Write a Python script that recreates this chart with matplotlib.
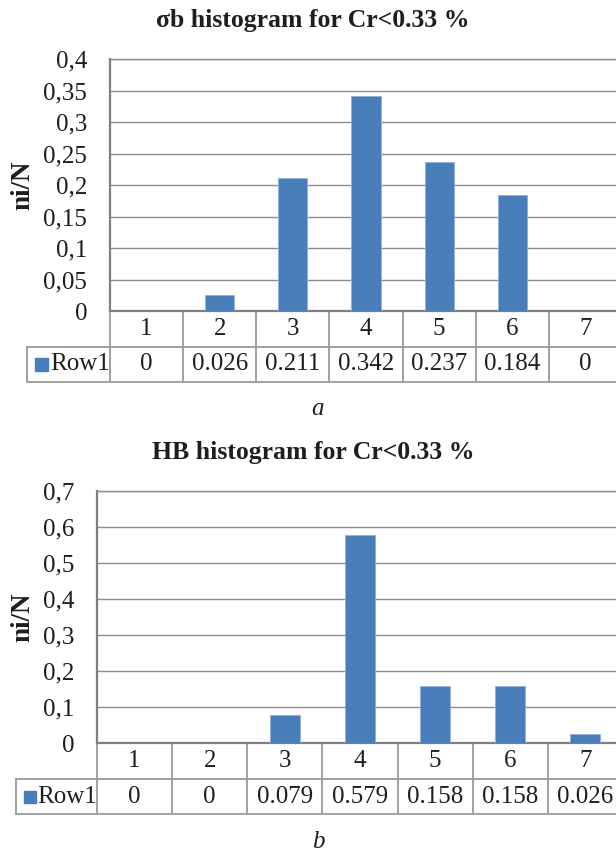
import matplotlib

matplotlib.use("Agg")
import matplotlib.pyplot as plt
from matplotlib.lines import Line2D
from matplotlib.patches import Rectangle
from matplotlib.ticker import FuncFormatter

plt.rcParams["font.family"] = ["Liberation Serif", "DejaVu Serif"]

# data
categories = ["1", "2", "3", "4", "5", "6", "7"]
sigma_vals = [0, 0.026, 0.211, 0.342, 0.237, 0.184, 0]
hb_vals = [0, 0, 0.079, 0.579, 0.158, 0.158, 0.026]
sigma_ticks = [0, 0.05, 0.1, 0.15, 0.2, 0.25, 0.3, 0.35, 0.4]
hb_ticks = [0, 0.1, 0.2, 0.3, 0.4, 0.5, 0.6, 0.7]
series_name = "Row1"

BAR = "#4a7ebb"
GRID = "#8c8c8c"
CELL = "#a0a0a0"
TXT = "#1e1e1e"
W, H = 616, 852


def fmt(v, _pos=None):
    return f"{round(v, 3):g}".replace(".", ",")


def chart(fig, left, base, right, leg_left, title, title_y, caption, cap_y, vals, ticks):
    ax = fig.add_axes([left / W, 1 - base / H, (right - left) / W, 252 / H])
    x = range(1, len(categories) + 1)
    ax.bar(x, vals, width=0.4, color=BAR, edgecolor="#8fb0dc", linewidth=0.6, zorder=3)
    ax.set_xlim(0.5, len(categories) + 0.5)
    ax.set_ylim(ticks[0], ticks[-1])
    ax.set_yticks(ticks)
    ax.yaxis.set_major_formatter(FuncFormatter(fmt))
    ax.set_xticks([])
    ax.tick_params(axis="y", length=0, pad=16.5, labelsize=18, labelcolor=TXT)
    ax.yaxis.grid(True, color=GRID, linewidth=1.0)
    ax.set_axisbelow(True)
    for side in ("top", "right"):
        ax.spines[side].set_color(GRID)
        ax.spines[side].set_linewidth(1.0)
    for side in ("left", "bottom"):
        ax.spines[side].set_color("#7f7f7f")
        ax.spines[side].set_linewidth(1.6)

    # data table under the plot, in axes fraction
    ph = 252.0
    r1 = -36 / ph
    r2 = -71 / ph
    n = len(categories)
    lf = (leg_left - left) / (right - left)
    tr = ax.transAxes
    kw = dict(transform=tr, color=CELL, linewidth=1.4, clip_on=False)
    for i in range(n + 1):
        ax.add_line(Line2D([i / n, i / n], [0, r2], **kw))
    ax.add_line(Line2D([0, 1], [r1, r1], **kw))
    ax.add_line(Line2D([lf, 1], [r2, r2], **kw))
    ax.add_line(Line2D([lf, 0], [r1, r1], **kw))
    ax.add_line(Line2D([lf, lf], [r1, r2], **kw))
    for i, (c, v) in enumerate(zip(categories, vals)):
        xc = (i + 0.5) / n
        ax.text(xc, r1 / 2, c, transform=tr, ha="center", va="center",
                fontsize=18, color=TXT)
        ax.text(xc, (r1 + r2) / 2, f"{v:g}", transform=tr, ha="center",
                va="center", fontsize=18, color=TXT)
    sq = 12.5 / (right - left)
    sq_h = 12.5 / ph
    ym = (r1 + r2) / 2
    ax.add_patch(Rectangle((lf + 8 / (right - left), ym - sq_h / 2), sq, sq_h,
                           transform=tr, color=BAR, clip_on=False))
    ax.text(0, ym, series_name, transform=tr, ha="right", va="center",
            fontsize=18, color=TXT)

    fig.text(313 / W, 1 - title_y / H, title, ha="center", va="center",
             fontsize=18.5, fontweight="bold", color=TXT)
    fig.text(23 / W, 1 - (base - 126) / H, "ni/N", ha="center", va="center",
             rotation=90, fontsize=19.5, fontweight="bold", color=TXT)
    fig.text(318 / W, 1 - cap_y / H, caption, ha="center", va="center",
             fontsize=18, style="italic", color=TXT)
    return ax


fig = plt.figure(figsize=(W / 100, H / 100), dpi=100)
chart(fig, 110, 311, 622, 27, "σb histogram for Cr<0.33 %", 20, "a", 409,
      sigma_vals, sigma_ticks)
chart(fig, 97, 743.3, 623, 15.7, "HB histogram for Cr<0.33 %", 452, "b", 842,
      hb_vals, hb_ticks)
fig.savefig("out.png", dpi=100)
